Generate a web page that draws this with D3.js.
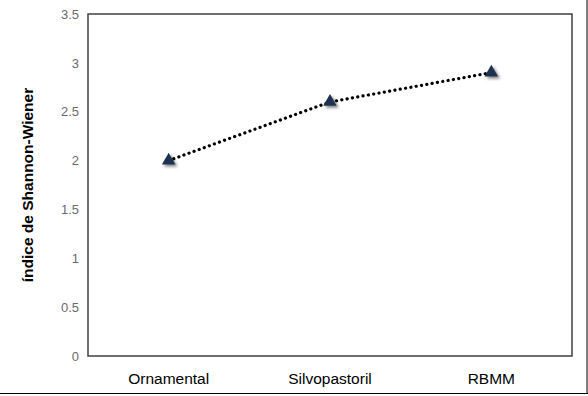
<!DOCTYPE html>
<html>
<head>
<meta charset="utf-8">
<script src="https://cdn.jsdelivr.net/npm/d3@7"></script>
<style>
  body { margin: 0; background: #fff; }
</style>
</head>
<body>
<div id="container"></div>
<script>
var width = 588;
var height = 396;
var margin = {top: 14, right: 16, bottom: 40, left: 88};

var categories = ["Ornamental", "Silvopastoril", "RBMM"];
var values = [2.0, 2.6, 2.9];
var yTicks = [0, 0.5, 1, 1.5, 2, 2.5, 3, 3.5];

var data = categories.map(function(c, i) { return {cat: c, val: values[i]}; });

var svg = d3.select("#container")
    .append("svg")
    .attr("width", width)
    .attr("height", height);

// shadow for markers
var defs = svg.append("defs");
var f = defs.append("filter").attr("id", "shadow")
    .attr("x", "-100%").attr("y", "-100%").attr("width", "300%").attr("height", "300%");
f.append("feGaussianBlur").attr("in", "SourceAlpha").attr("stdDeviation", 1.8).attr("result", "b");
f.append("feOffset").attr("in", "b").attr("dx", 1.5).attr("dy", 1.5).attr("result", "o");
f.append("feComponentTransfer").attr("in", "o").attr("result", "s")
  .append("feFuncA").attr("type", "linear").attr("slope", 0.5);
var m = f.append("feMerge");
m.append("feMergeNode").attr("in", "s");
m.append("feMergeNode").attr("in", "SourceGraphic");

// outer frame lines (right and bottom)
svg.append("line").attr("x1", 587).attr("x2", 587).attr("y1", 0).attr("y2", 394)
    .attr("stroke", "#000").attr("stroke-width", 1);
svg.append("line").attr("x1", 0).attr("x2", 588).attr("y1", 393.5).attr("y2", 393.5)
    .attr("stroke", "#000").attr("stroke-width", 1);

var xScale = d3.scaleBand()
    .domain(categories)
    .range([margin.left, width - margin.right]);

var yScale = d3.scaleLinear()
    .domain([0, 3.5])
    .range([height - margin.bottom, margin.top]);

// plot border
svg.append("rect")
    .attr("x", margin.left)
    .attr("y", margin.top)
    .attr("width", width - margin.left - margin.right)
    .attr("height", height - margin.top - margin.bottom)
    .attr("fill", "none")
    .attr("stroke", "#404040")
    .attr("stroke-width", 1.5);

// Y axis
var yAxis = d3.axisLeft(yScale)
    .tickValues(yTicks)
    .tickSize(0)
    .tickPadding(9)
    .tickFormat(function(d) { return String(d); });
var gy = svg.append("g")
    .attr("transform", "translate(" + margin.left + ",0)")
    .call(yAxis);
gy.select(".domain").remove();
gy.selectAll("text")
    .attr("font-family", "Liberation Sans, Arial, sans-serif")
    .attr("font-size", "13px")
    .attr("fill", "#6b6b6b");

// X axis
var xAxis = d3.axisBottom(xScale).tickSize(0).tickPadding(17);
var gx = svg.append("g")
    .attr("transform", "translate(0," + (height - margin.bottom) + ")")
    .call(xAxis);
gx.select(".domain").remove();
gx.selectAll("text")
    .attr("font-family", "Liberation Sans, Arial, sans-serif")
    .attr("font-size", "15.5px")
    .attr("fill", "#000");

// line
var line = d3.line()
    .x(function(d) { return xScale(d.cat) + xScale.bandwidth() / 2; })
    .y(function(d) { return yScale(d.val); });

svg.append("path")
    .datum(data)
    .attr("d", line)
    .attr("fill", "none")
    .attr("stroke", "#000")
    .attr("stroke-width", 3.2)
    .attr("stroke-linecap", "round")
    .attr("stroke-dasharray", "0.1 5.3");

// markers
svg.selectAll(".pt")
    .data(data)
    .enter()
    .append("path")
    .attr("class", "pt")
    .attr("d", d3.symbol().type(d3.symbolTriangle).size(80))
    .attr("transform", function(d) {
        return "translate(" + (xScale(d.cat) + xScale.bandwidth() / 2) + "," + yScale(d.val) + ")";
    })
    .attr("fill", "#1f3350")
    .attr("filter", "url(#shadow)");

// Y axis label
svg.append("text")
    .attr("transform", "rotate(-90)")
    .attr("x", -(margin.top + (height - margin.top - margin.bottom) / 2))
    .attr("y", 33)
    .attr("text-anchor", "middle")
    .attr("font-family", "Liberation Sans, Arial, sans-serif")
    .attr("font-size", "15.5px")
    .attr("font-weight", "bold")
    .text("índice de Shannon-Wiener");
</script>
</body>
</html>
